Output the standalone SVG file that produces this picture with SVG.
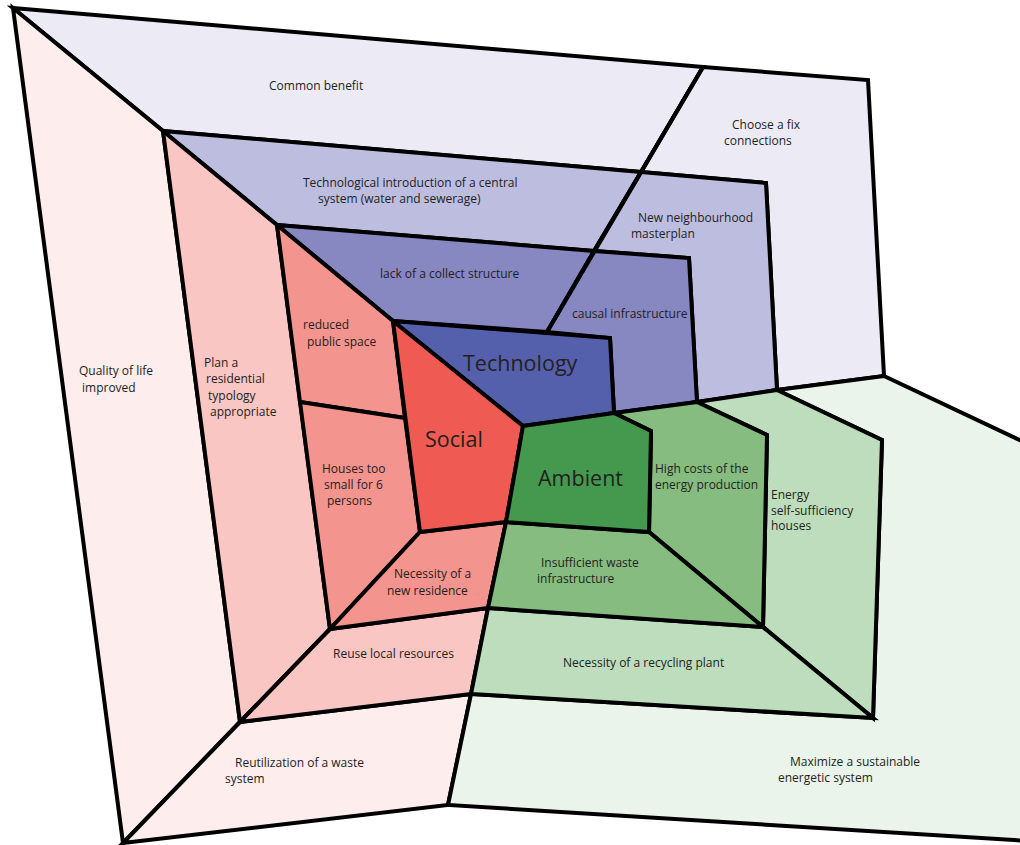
<svg xmlns="http://www.w3.org/2000/svg" width="1020" height="845" viewBox="0 0 1020 845">
<style>
polygon{stroke:#000;stroke-width:4;stroke-linejoin:miter}
.b1{fill:#ECEBF5}.b2{fill:#BDBDE0}.b3{fill:#8787C2}.b4{fill:#5560AC}
.p1{fill:#FDEDED}.p2{fill:#F9C6C3}.p3{fill:#F4948E}.p4{fill:#EF5A52}
.g1{fill:#EAF4EA}.g2{fill:#BEDDBC}.g3{fill:#86BC80}.g4{fill:#44994F}
text{font-family:"Open Sans","Liberation Sans",sans-serif;font-size:12px;fill:#231F20}
.big{font-size:21.5px}
.conn{stroke:#000;stroke-width:4;fill:none}
</style>
<rect width="1020" height="845" fill="#fff"/>
<g id="common-benefit"><polygon class="b1" points="13,8 703,67 641,172 163,131"/><text x="269" y="90">Common benefit</text></g>
<g id="choose-fix"><polygon class="b1" points="703,67 868,80 884,376 777,390 766,183 641,172"/><text x="732" y="129">Choose a fix</text><text x="724" y="145">connections</text></g>
<g id="tech-intro"><polygon class="b2" points="163,131 641,172 594,251 277,225"/><text x="303" y="187">Technological introduction of a central</text><text x="318" y="203">system (water and sewerage)</text></g>
<g id="masterplan"><polygon class="b2" points="641,172 766,183 777,390 697,402 689,258 594,251"/><text x="638" y="222">New neighbourhood</text><text x="631" y="238">masterplan</text></g>
<g id="collect"><polygon class="b3" points="277,225 594,251 547,332 393,321"/><text x="380" y="278">lack of a collect structure</text></g>
<g id="causal"><polygon class="b3" points="594,251 689,258 697,402 614,413 610,338 547,332"/><text x="572" y="318">causal infrastructure</text></g>
<g id="technology"><polygon class="b4" points="393,321 610,338 614,413 523,426"/><text class="big" x="463" y="371">Technology</text></g>
<g id="quality"><polygon class="p1" points="13,8 163,131 240,722 123,843"/><text x="79" y="375">Quality of life</text><text x="82" y="392">improved</text></g>
<g id="reutilization"><polygon class="p1" points="240,722 471,694 448,805 123,843"/><text x="235" y="767">Reutilization of a waste</text><text x="225" y="783">system</text></g>
<g id="plan"><polygon class="p2" points="163,131 277,225 330,629 240,722"/><text x="204" y="367">Plan a</text><text x="206" y="383">residential</text><text x="208" y="400">typology</text><text x="210" y="416">appropriate</text></g>
<g id="reuse"><polygon class="p2" points="330,629 488,608 471,694 240,722"/><text x="333" y="658">Reuse local resources</text></g>
<g id="public-space"><polygon class="p3" points="277,225 393,321 405,418 300,402"/><text x="303" y="329">reduced</text><text x="307" y="346">public space</text></g>
<g id="houses"><polygon class="p3" points="300,402 405,418 420,532 330,629"/><text x="322" y="473">Houses too</text><text x="324" y="489">small for 6</text><text x="327" y="505">persons</text></g>
<g id="new-residence"><polygon class="p3" points="420,532 506,522 488,608 330,629"/><text x="394" y="578">Necessity of a</text><text x="387" y="595">new residence</text></g>
<g id="social"><polygon class="p4" points="393,321 523,426 506,522 420,532"/><text class="big" x="425" y="447">Social</text></g>
<g id="maximize"><polygon class="g1" points="777,390 884,376 1030,445 1030,841 448,805 471,694 873,718 882,440"/><text x="790" y="766">Maximize a sustainable</text><text x="778" y="782">energetic system</text></g>
<g id="self-sufficiency"><polygon class="g2" points="697,402 777,390 882,440 873,718 763,627 767,435"/><text x="771" y="499">Energy</text><text x="771" y="515">self-sufficiency</text><text x="771" y="530">houses</text></g>
<g id="recycling"><polygon class="g2" points="488,608 763,627 873,718 471,694"/><text x="563" y="667">Necessity of a recycling plant</text></g>
<g id="high-costs"><polygon class="g3" points="614,413 697,402 767,435 763,627 649,532 651,431"/><text x="655" y="473">High costs of the</text><text x="655" y="489">energy production</text></g>
<g id="waste"><polygon class="g3" points="506,522 649,532 763,627 488,608"/><text x="541" y="567">Insufficient waste</text><text x="537" y="583">infrastructure</text></g>
<g id="ambient"><polygon class="g4" points="523,426 614,413 651,431 649,532 506,522"/><text class="big" x="538" y="486">Ambient</text></g>
<g id="connectors"><line class="conn" x1="703" y1="67" x2="547" y2="332"/></g>
</svg>
